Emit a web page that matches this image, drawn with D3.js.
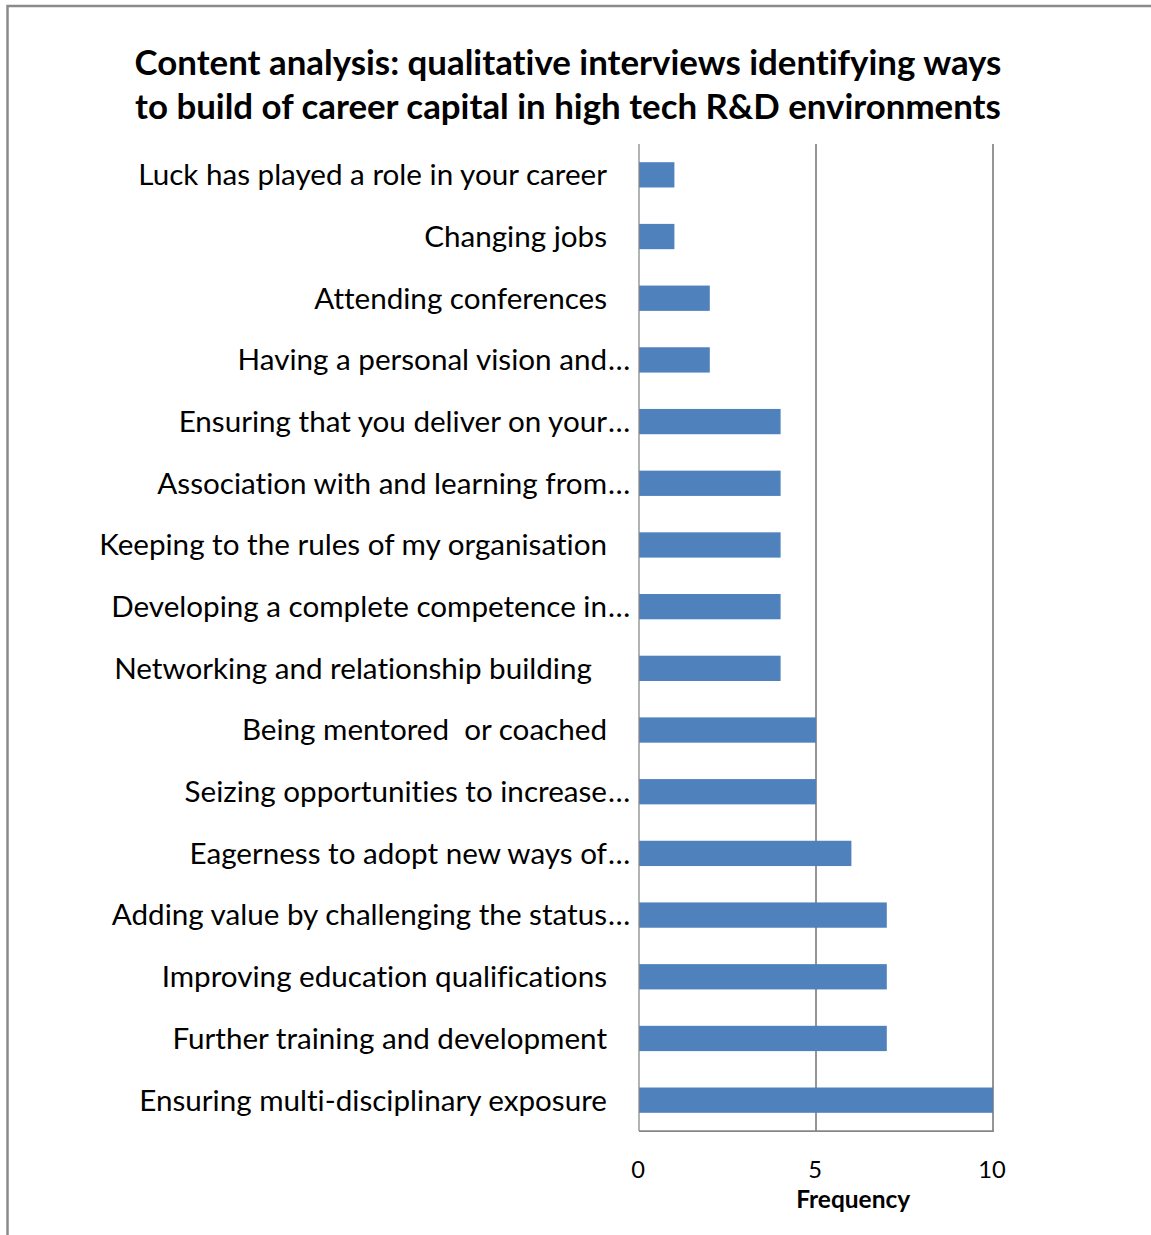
<!DOCTYPE html>
<html>
<head>
<meta charset="utf-8">
<script src="https://cdn.jsdelivr.net/npm/d3@7"></script>
<style>
  html, body { margin: 0; padding: 0; background: #ffffff; }
  svg { display: block; }
  text { font-variant-ligatures: none; font-feature-settings: "liga" 0, "dlig" 0; }
</style>
</head>
<body>
<svg id="chart" width="1151" height="1235"></svg>
<script>
// Chart title, one entry per line
const titleLines = [
  "Content analysis: qualitative interviews identifying ways",
  "to build of career capital in high tech R&D environments"
];

// Categories, top to bottom
const categories = [
  "Luck has played a role in your career",
  "Changing jobs",
  "Attending conferences",
  "Having a personal vision and\u2026",
  "Ensuring that you deliver on your\u2026",
  "Association with and learning from\u2026",
  "Keeping to the rules of my organisation",
  "Developing a complete competence in\u2026",
  "Networking and relationship building  ",
  "Being mentored\u00a0 or coached",
  "Seizing opportunities to increase\u2026",
  "Eagerness to adopt new ways of\u2026",
  "Adding value by challenging the status\u2026",
  "Improving education qualifications",
  "Further training and development",
  "Ensuring multi-disciplinary exposure"
];

// Frequency for each category
const frequency = [1, 1, 2, 2, 4, 4, 4, 4, 4, 5, 5, 6, 7, 7, 7, 10];

// Value axis ticks
const xTicks = [0, 5, 10];
const xAxisTitle = "Frequency";

const FONT = "Lato, 'Open Sans', sans-serif";
const BAR = "#4f81bd";
const GRID = "#868686";

const svg = d3.select("#chart");

// Plot area
const plot = { left: 639, right: 993, top: 144, bottom: 1131 };

const x = d3.scaleLinear()
  .domain([0, 10])
  .range([plot.left, plot.right]);

const y = d3.scaleBand()
  .domain(categories)
  .range([plot.top, plot.bottom])
  .paddingInner(0.59)
  .paddingOuter(0.295);

// Outer frame of the chart
svg.append("rect")
  .attr("x", 7.5).attr("y", 6)
  .attr("width", 1170).attr("height", 1250)
  .attr("fill", "none")
  .attr("stroke", "#8a8a8a")
  .attr("stroke-width", 2.5);

// Fit a font size so that a string occupies a given width
function fitSize(text, weight, target) {
  const t = svg.append("text")
    .attr("font-family", FONT)
    .attr("font-weight", weight)
    .attr("font-size", 100)
    .style("white-space", "pre")
    .text(text);
  const w = t.node().getComputedTextLength();
  t.remove();
  return 100 * target / w;
}

// Title
const titleSize = fitSize(titleLines[0], 700, 867);
svg.append("g")
  .selectAll("text")
  .data(titleLines)
  .join("text")
  .attr("x", 568)
  .attr("y", (d, i) => 75 + i * 44)
  .attr("text-anchor", "middle")
  .attr("font-family", FONT)
  .attr("font-weight", 700)
  .attr("font-size", titleSize)
  .attr("fill", "#000")
  .text(d => d);

// Gridlines at the major ticks (excluding zero)
svg.append("g")
  .selectAll("line")
  .data(xTicks.filter(d => d > 0))
  .join("line")
  .attr("x1", d => x(d)).attr("x2", d => x(d))
  .attr("y1", plot.top).attr("y2", plot.bottom)
  .attr("stroke", GRID)
  .attr("stroke-width", 1.75);

// Bars
svg.append("g")
  .selectAll("rect")
  .data(categories)
  .join("rect")
  .attr("x", x(0))
  .attr("y", d => y(d))
  .attr("width", (d, i) => x(frequency[i]) - x(0))
  .attr("height", y.bandwidth())
  .attr("fill", BAR);

// Category axis line
svg.append("line")
  .attr("x1", plot.left).attr("x2", plot.left)
  .attr("y1", plot.top).attr("y2", plot.bottom)
  .attr("stroke", GRID).attr("stroke-width", 1.25);

// Value axis line
svg.append("line")
  .attr("x1", plot.left).attr("x2", plot.right + 0.9)
  .attr("y1", plot.bottom).attr("y2", plot.bottom)
  .attr("stroke", GRID).attr("stroke-width", 1.75);

// Category labels; truncated ones keep their ellipsis past the text edge
const labelSize = fitSize("Keeping to the rules of my organisation", 400, 508);
const labelEnd = plot.left - 32;
const labels = svg.append("g")
  .selectAll("g")
  .data(categories)
  .join("g")
  .attr("transform", d => `translate(0,${y(d) + y.bandwidth() / 2})`);

labels.append("text")
  .attr("x", labelEnd)
  .attr("dy", "0.35em")
  .attr("text-anchor", "end")
  .attr("font-family", FONT)
  .attr("font-size", labelSize)
  .attr("fill", "#000")
  .style("white-space", "pre")
  .text(d => d.endsWith("\u2026") ? d.slice(0, -1) : d);

labels.filter(d => d.endsWith("\u2026"))
  .append("text")
  .attr("x", labelEnd + 1)
  .attr("dy", "0.35em")
  .attr("font-family", FONT)
  .attr("font-size", labelSize)
  .attr("fill", "#000")
  .text("\u2026");

// Value tick labels
svg.append("g")
  .selectAll("text")
  .data(xTicks)
  .join("text")
  .attr("x", d => x(d) - 1)
  .attr("y", 1170)
  .attr("dy", "0.35em")
  .attr("text-anchor", "middle")
  .attr("font-family", FONT)
  .attr("font-size", labelSize * 0.8)
  .attr("fill", "#000")
  .text(d => d);

// Value axis title
svg.append("text")
  .attr("x", x(6.05))
  .attr("y", 1199)
  .attr("dy", "0.35em")
  .attr("text-anchor", "middle")
  .attr("font-family", FONT)
  .attr("font-weight", 700)
  .attr("font-size", fitSize(xAxisTitle, 700, 114))
  .attr("fill", "#000")
  .text(xAxisTitle);
</script>
</body>
</html>
